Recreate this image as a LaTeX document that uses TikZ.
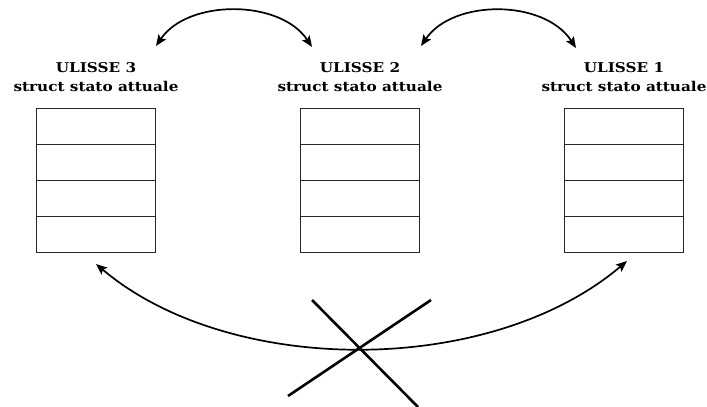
\documentclass[tikz,border=0pt]{standalone}
\usepackage{fontspec}
\setmainfont{DejaVu Serif}[FakeStretch=1.13]
\usetikzlibrary{arrows.meta}
\begin{document}
\begin{tikzpicture}[x=1pt,y=-1pt,
  cell/.style={draw=black!85, line width=0.9pt, minimum width=119pt, minimum height=36pt, inner sep=0pt, outer sep=0pt},
  title/.style={align=center, font=\fontsize{13.5}{19.5}\selectfont\bfseries},
  swap/.style={line width=1.7pt, {Stealth[length=11pt,width=9pt,inset=2pt]}-{Stealth[length=11pt,width=9pt,inset=2pt]}},
  bar/.style={line width=2.6pt}]
  \useasboundingbox (0,0) rectangle (707,407);

  % three struct tables, four rows each
  \foreach \n/\x in {3/96, 2/360, 1/624} {
    \node[title] (lab\n) at (\x,77) {ULISSE \n\\struct stato attuale};
    \foreach \r in {1,...,4} {
      \node[cell] (c\n-\r) at (\x,{108+18+36*(\r-1)}) {};
    }
  }

  % arrow end points
  \coordinate (a3) at (156,46);
  \coordinate (a2l) at (312,47);
  \coordinate (a2r) at (421,46);
  \coordinate (a1) at (576,48);
  \coordinate (b3) at (96,264);
  \coordinate (b1) at (627,261);

  % exchanges between neighbouring tables
  \draw[swap] (a3) .. controls (188,-1) and (280,-1) .. (a2l);
  \draw[swap] (a2r) .. controls (453,-1) and (544,-1) .. (a1);

  % forbidden direct exchange
  \draw[swap] (b3) .. controls (230,377) and (490,377) .. (b1);
  \coordinate (x1) at (312,300);
  \coordinate (x2) at (418,407);
  \coordinate (x3) at (431,300);
  \coordinate (x4) at (288,396);
  \draw[bar] (x1) -- (x2);
  \draw[bar] (x3) -- (x4);
\end{tikzpicture}
\end{document}
